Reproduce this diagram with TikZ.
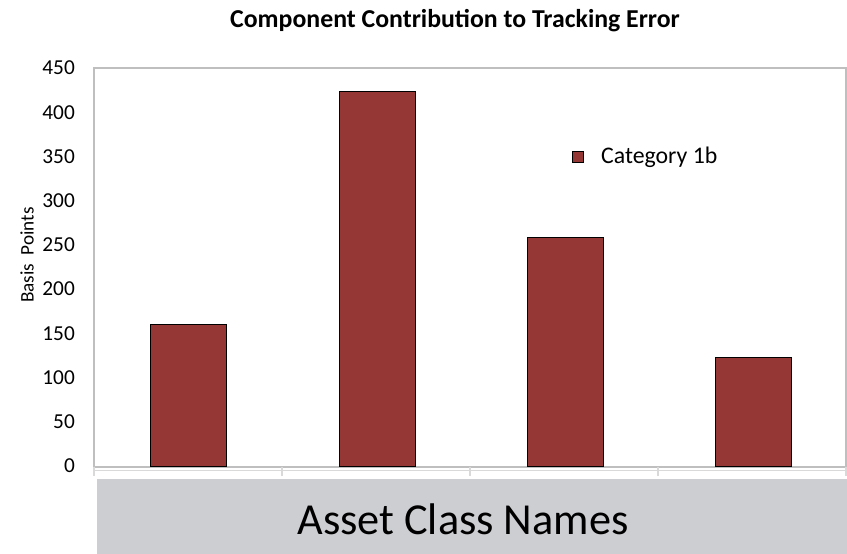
\documentclass[tikz,border=0pt]{standalone}
\usepackage{fontspec}
\setmainfont{Carlito}
\definecolor{barred}{RGB}{149,55,53}
\definecolor{framegray}{RGB}{191,191,191}
\definecolor{axisgray}{RGB}{217,217,217}
\definecolor{boxgray}{RGB}{205,206,210}
\begin{document}
\begin{tikzpicture}[x=1pt,y=-1pt,
  barbox/.style={fill=barred,draw=black,line width=1pt},
  ticklab/.style={anchor=east,inner sep=0pt,font=\fontsize{21.3}{21.3}\selectfont},
  framestyle/.style={draw=framegray,line width=2pt},
  axisstyle/.style={draw=axisgray,line width=1.5pt}]
\useasboundingbox (0,0) rectangle (847,554);
% title
\node[font=\bfseries\fontsize{25.8}{25.8}\selectfont] (title) at (455,21) {Component Contribution to Tracking Error};
% plot frame
\draw[framestyle] (94,68) rectangle (846,467);
% category axis
\draw[axisstyle] (94,470.5) -- (846,470.5);
\foreach \x in {94,282,470,658,846}{\draw[axisstyle] (\x,467) -- (\x,476);}
% y tick labels
\foreach \v in {0,50,...,450}{
  \node[ticklab] (t\v) at (75,{466-\v*0.8844}) {\v};
}
% y label
\node[rotate=90,font=\fontsize{19.2}{19.2}\selectfont] (ylab) at (27,255) {Basis\ \ Points};
% bars
\draw[barbox] (150,466) rectangle (226,{466-160*0.8844});
\draw[barbox] (339,466) rectangle (415,{466-424*0.8844});
\draw[barbox] (527,466) rectangle (603,{466-258*0.8844});
\draw[barbox] (715,466) rectangle (791,{466-123*0.8844});
% legend
\draw[barbox] (572,151) rectangle (583,162);
\node[anchor=west,inner sep=0pt,font=\fontsize{23.8}{23.8}\selectfont] (leg) at (601,157) {Category 1b};
% bottom box
\fill[boxgray] (97,479) rectangle (847,554);
\node[font=\fontsize{44.3}{44.3}\selectfont] (names) at (463,519) {Asset Class Names};
\end{tikzpicture}
\end{document}
